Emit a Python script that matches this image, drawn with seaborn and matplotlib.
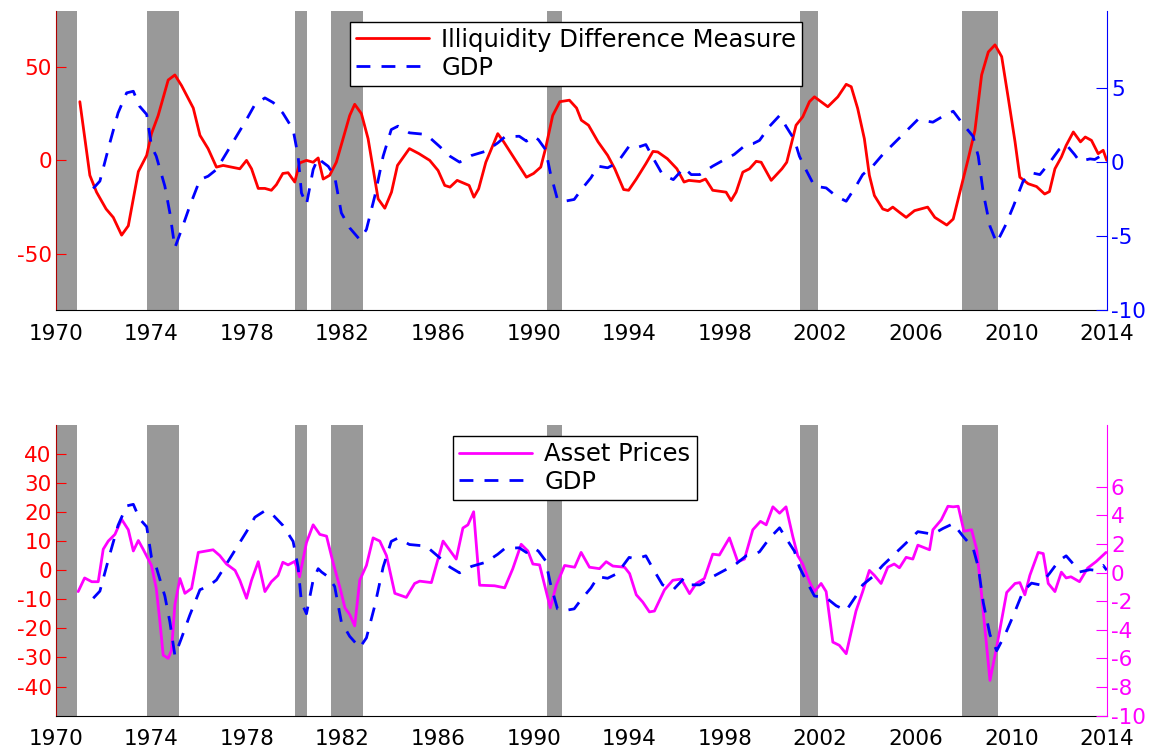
import seaborn as sns
import matplotlib
matplotlib.use("Agg")
import matplotlib.pyplot as plt

# recession periods (start, end)
recessions = [(1969.9, 1970.88), (1973.83, 1975.15), (1980.0, 1980.5),
              (1981.5, 1982.84), (1990.55, 1991.2), (2001.17, 2001.9),
              (2007.95, 2009.46)]

illiq_year = [1971.0, 1971.42, 1971.7, 1972.1, 1972.4, 1972.75, 1973.03, 1973.45, 1973.8, 1974.0,
              1974.28, 1974.7, 1974.98, 1975.26, 1975.75, 1976.03, 1976.37, 1976.72, 1977.0, 1977.7,
              1977.98, 1978.19, 1978.47, 1978.75, 1979.02, 1979.23, 1979.5, 1979.72, 1980.0, 1980.2,
              1980.49, 1980.77, 1980.98, 1981.19, 1981.46, 1981.74, 1982.02, 1982.3, 1982.51, 1982.79,
              1983.07, 1983.49, 1983.77, 1984.05, 1984.3, 1984.8, 1985.2, 1985.65, 1986.0, 1986.28,
              1986.5, 1986.8, 1987.3, 1987.5, 1987.7, 1988.0, 1988.5, 1988.75, 1989.2, 1989.7,
              1990.0, 1990.3, 1990.5, 1990.8, 1991.1, 1991.5, 1991.8, 1992.0, 1992.3, 1992.7,
              1993.1, 1993.4, 1993.77, 1993.98, 1994.3, 1994.7, 1995.0, 1995.2, 1995.6, 1996.0,
              1996.3, 1996.5, 1996.96, 1997.2, 1997.5, 1998.06, 1998.27, 1998.48, 1998.76, 1999.04,
              1999.32, 1999.53, 1999.95, 2000.4, 2000.6, 2000.99, 2001.27, 2001.55, 2001.76, 2002.32,
              2002.74, 2003.09, 2003.3, 2003.57, 2003.85, 2004.06, 2004.27, 2004.62, 2004.83, 2005.04,
              2005.32, 2005.6, 2005.95, 2006.5, 2006.8, 2007.3, 2007.57, 2007.85, 2008.2, 2008.48,
              2008.76, 2009.04, 2009.32, 2009.6, 2009.88, 2010.16, 2010.36, 2010.71, 2011.06, 2011.4,
              2011.6, 2011.83, 2012.1, 2012.3, 2012.6, 2012.9, 2013.1, 2013.36, 2013.64, 2013.85,
              2014.0]
illiq_val = [31.4, -8, -17, -26, -30.5, -40, -35, -6, 2.7, 14.3,
             24, 43, 45.7, 40, 28, 13.4, 6.3, -3.6, -2.7, -4.5,
             0, -4.5, -15, -15, -16, -13, -7, -6.6, -11.6, -1.4,
             0, -1, 1.3, -10, -8, -1, 11.6, 24, 30, 25,
             11.6, -20.6, -25.6, -17, -2.7, 6.3, 3.6, 0, -5.4, -13.4,
             -14.3, -10.7, -13.4, -19.7, -15.2, -1, 14.3, 9.9, 0.9, -9,
             -7, -3.6, 6.3, 24, 31.4, 32.2, 28, 21.5, 18.8, 9.9,
             2.7, -4.5, -15.6, -16, -10, -1.8, 4.8, 4.5, 0.9, -4.5,
             -11.6, -10.7, -11.3, -10, -16, -17, -21.5, -17, -6.3, -4.5,
             -0.5, -1, -10.7, -4.5, -1, 18.8, 23.3, 31.4, 34, 28.7,
             34, 40.7, 39.4, 27.8, 11.6, -8, -18.8, -26, -26.9, -25,
             -27.8, -30.5, -26.9, -25, -30.5, -34.6, -31.4, -17, 0.9, 16,
             45.7, 58, 61.8, 55.5, 33, 9.9, -9, -12.5, -14, -18,
             -16.7, -4.5, 1.8, 8, 15.2, 9.9, 12.5, 10.7, 3.6, 5.4,
             0]

gdp_year = [1971.56, 1971.84, 1972.26, 1972.6, 1972.96, 1973.24, 1973.5, 1973.8, 1974.0, 1974.2,
            1974.56, 1974.77, 1974.98, 1975.26, 1975.6, 1976.03, 1976.37, 1976.72, 1977.14, 1977.56,
            1977.98, 1978.33, 1978.75, 1979.1, 1979.5, 1979.93, 1980.14, 1980.28, 1980.49, 1980.77,
            1980.98, 1981.12, 1981.4, 1981.67, 1981.95, 1982.3, 1982.72, 1983.0, 1983.35, 1983.7,
            1984.04, 1984.32, 1984.8, 1985.5, 1986.05, 1986.5, 1986.9, 1987.4, 1988.0, 1988.5,
            1988.8, 1989.4, 1989.7, 1990.0, 1990.2, 1990.5, 1990.7, 1991.0, 1991.3, 1991.7,
            1992.0, 1992.4, 1992.7, 1993.1, 1993.5, 1994.0, 1994.3, 1994.7, 1995.0, 1995.4,
            1995.85, 1996.3, 1996.6, 1996.96, 1997.5, 1998.0, 1998.4, 1998.9, 1999.2, 1999.46,
            1999.88, 2000.3, 2000.57, 2000.92, 2001.13, 2001.4, 2001.76, 2002.25, 2002.67, 2003.09,
            2003.5, 2003.78, 2004.2, 2004.62, 2005.04, 2005.6, 2006.09, 2006.72, 2007.14, 2007.57,
            2007.99, 2008.4, 2008.62, 2008.83, 2009.11, 2009.39, 2009.74, 2010.09, 2010.5, 2010.85,
            2011.2, 2011.6, 2012.0, 2012.3, 2012.65, 2012.86, 2013.3, 2013.5, 2013.85, 2014.0]
gdp_val = [-1.8, -1.3, 1.3, 3.3, 4.66, 4.77, 3.76, 3.2, 1.06, 0.38,
           -1.64, -3.45, -5.8, -4.57, -3.0, -1.2, -0.97, -0.52, 0.6, 1.73,
           2.86, 3.87, 4.32, 4.0, 3.3, 2.18, 0.38, -2.1, -2.88, -0.52,
           0.27, 0.04, -0.3, -0.97, -3.45, -4.46, -5.25, -4.57, -2.32, 0.38,
           2.18, 2.41, 1.96, 1.85, 1.06, 0.38, -0.02, 0.43, 0.72, 1.28,
           1.69, 1.73, 1.4, 1.73, 1.5, 0.83, -0.74, -2.54, -2.66, -2.54,
           -1.87, -1.08, -0.29, -0.4, -0.07, 1.06, 0.95, 1.17, 0.27, -0.86,
           -1.2, -0.4, -0.86, -0.86, -0.29, 0.16, 0.5, 1.17, 1.24, 1.45,
           2.4, 3.13, 2.4, 1.5, 0.38, -0.52, -1.64, -1.76, -2.32, -2.66,
           -1.64, -0.86, -0.29, 0.5, 1.17, 2.07, 2.86, 2.68, 3.08, 3.42,
           2.52, 1.73, 0.38, -2.1, -4.35, -5.47, -4.35, -3.0, -1.3, -0.74,
           -0.86, -0.07, 0.83, 1.17, 0.5, 0.04, 0.2, 0.16, 0.5, 0.16]

asset_year = [1970.93, 1971.2, 1971.5, 1971.77, 1971.98, 1972.19, 1972.47, 1972.75, 1973.03, 1973.24,
              1973.45, 1973.65, 1974.0, 1974.2, 1974.35, 1974.49, 1974.7, 1974.84, 1974.98, 1975.19,
              1975.4, 1975.68, 1975.96, 1976.3, 1976.58, 1976.86, 1977.14, 1977.5, 1977.7, 1977.98,
              1978.19, 1978.47, 1978.75, 1979.02, 1979.3, 1979.5, 1979.72, 1980.0, 1980.2, 1980.49,
              1980.77, 1981.05, 1981.33, 1981.6, 1981.9, 1982.1, 1982.3, 1982.51, 1982.72, 1983.0,
              1983.28, 1983.56, 1983.84, 1984.19, 1984.67, 1985.02, 1985.23, 1985.72, 1986.21, 1986.76,
              1987.04, 1987.25, 1987.49, 1987.74, 1988.37, 1988.79, 1989.13, 1989.48, 1989.76, 1989.97,
              1990.25, 1990.7, 1990.95, 1991.3, 1991.72, 1991.99, 1992.34, 1992.76, 1993.04, 1993.32,
              1993.81, 1994.02, 1994.3, 1994.57, 1994.85, 1995.06, 1995.48, 1995.83, 1996.18, 1996.53,
              1996.81, 1997.15, 1997.5, 1997.78, 1998.2, 1998.55, 1998.83, 1999.18, 1999.5, 1999.74,
              2000.02, 2000.3, 2000.57, 2000.85, 2001.06, 2001.27, 2001.55, 2001.76, 2002.04, 2002.25,
              2002.53, 2002.8, 2003.09, 2003.5, 2003.78, 2004.06, 2004.27, 2004.55, 2004.83, 2005.1,
              2005.32, 2005.6, 2005.88, 2006.09, 2006.58, 2006.72, 2007.07, 2007.35, 2007.57, 2007.78,
              2008.02, 2008.34, 2008.55, 2008.76, 2009.11, 2009.39, 2009.81, 2010.16, 2010.36, 2010.57,
              2010.78, 2011.13, 2011.34, 2011.55, 2011.83, 2012.1, 2012.3, 2012.5, 2012.86, 2013.2,
              2013.55, 2013.97]
asset_val = [-7.3, -2.6, -3.9, -3.9, 7.3, 10.1, 12.4, 17.6, 14, 6.7,
             10.3, 7.3, 1.7, -6.2, -17.4, -29.2, -30.3, -27.5, -11.8, -2.8,
             -7.9, -6.2, 6.2, 6.7, 7.1, 5.1, 2.2, 0, -3.4, -9.6,
             -3.4, 3, -7.3, -3.9, -1.7, 2.8, 1.9, 3.1, -2.2, 9.6,
             15.7, 12.4, 11.8, 2.8, -6.2, -12.9, -15.2, -19.1, -3.4, 1.7,
             11.2, 10.1, 5.1, -7.9, -9.3, -4.5, -3.7, -4.2, 10.1, 3.9,
             14.6, 15.7, 20.2, -5.1, -5.3, -6, 0.6, 9, 6.7, 2.2,
             1.9, -12.9, -5.1, 1.7, 1.1, 6.2, 1.1, 0.6, 3, 1.5,
             1.1, -1.1, -8.4, -10.9, -14.3, -14, -6.7, -3.4, -3, -8,
             -4.5, -2.8, 5.6, 5.3, 11.2, 3, 3.9, 14, 16.9, 15.7,
             21.9, 19.7, 21.9, 11.8, 5.1, 2.2, -3.9, -7.3, -4.5, -7.3,
             -24.7, -25.8, -28.7, -14, -7.3, 0, -1.7, -4.5, 1.1, 2.2,
             0.9, 4.5, 3.9, 8.7, 7.1, 14, 17.4, 22.1, 21.9, 22.1,
             13.5, 14, 7.3, -8.4, -37.9, -26.4, -7.6, -4.5, -4.2, -8.4,
             -1.7, 6.2, 5.8, -4.5, -7.3, -0.6, -2.6, -2.2, -3.9, 0.8,
             3, 6.2]

x_ticks = list(range(1970, 2015, 4))

sns.set_style("white")
plt.rcParams["font.family"] = ["DejaVu Sans"]
plt.rcParams["axes.unicode_minus"] = False

fig = plt.figure(figsize=(11.56, 7.54), dpi=100)


def panel(rect, xs, ys, color, y_left_lim, left_ticks, right_lim, right_ticks, right_color,
          label, leg_anchor, xpad):
    ax = fig.add_axes(rect)
    for a, b in recessions:
        ax.axvspan(a, b, color="0.6", lw=0, zorder=0)
    sns.lineplot(x=xs, y=ys, ax=ax, color=color, lw=2, label=label, legend=False)
    ax.set_xlim(1970, 2014)
    ax.set_ylim(*y_left_lim)
    ax.set_yticks(left_ticks)
    ax.set_xticks(x_ticks)
    ax.tick_params(axis="y", colors="red", direction="in", length=7, labelsize=15.5, pad=3)
    ax.tick_params(axis="x", colors="black", direction="in", length=7, labelsize=15.5, pad=xpad)
    ax.spines["left"].set_color("#b00000")
    ax.spines["top"].set_visible(False)
    ax.spines["right"].set_visible(False)
    ax.spines["bottom"].set_color("black")
    ax.set_xlabel("")
    ax.set_ylabel("")

    ax2 = ax.twinx()
    sns.lineplot(x=gdp_year, y=gdp_val, ax=ax2, color="blue", lw=2, label="GDP", legend=False)
    ax2.lines[-1].set_dashes((5, 4))
    ax2.set_ylim(*right_lim)
    ax2.set_yticks(right_ticks)
    ax2.tick_params(axis="y", colors=right_color, direction="in", length=8, labelsize=15.5, pad=3)
    ax2.spines["right"].set_color(right_color)
    for s in ("top", "left", "bottom"):
        ax2.spines[s].set_visible(False)
    ax2.set_ylabel("")

    handles = [ax.lines[-1], ax2.lines[-1]]
    leg = ax2.legend(handles, [label, "GDP"], loc="upper left", bbox_to_anchor=leg_anchor,
                     borderaxespad=0, fontsize=17.5, frameon=True, fancybox=False, framealpha=1,
                     edgecolor="black", handlelength=3.0, handletextpad=0.5,
                     borderpad=0.25, labelspacing=0.15, labelcolor="black")
    leg.get_frame().set_linewidth(1.0)
    return ax, ax2


panel([0.0484, 0.589, 0.909, 0.3966], illiq_year, illiq_val, "red", (-80, 80), [-50, 0, 50],
      (-10, 10.2), [-10, -5, 0, 5], "blue", "Illiquidity Difference Measure", (0.28, 0.963), 10)
panel([0.0484, 0.051, 0.909, 0.385], asset_year, asset_val, "magenta", (-50, 50), list(range(-40, 41, 10)),
      (-10, 10.3), list(range(-10, 7, 2)), "magenta", "Asset Prices", (0.378, 0.963), 9.5)

fig.savefig("out.png", dpi=100)
